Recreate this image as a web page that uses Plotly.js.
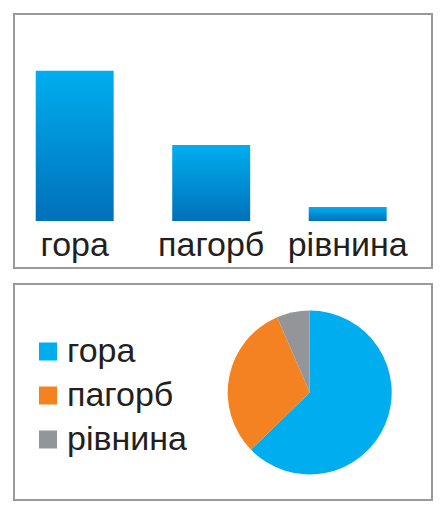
<!DOCTYPE html>
<html>
<head>
<meta charset="utf-8">
<script src="https://cdn.plot.ly/plotly-3.0.1.min.js"></script>
<style>
html,body{margin:0;padding:0;background:#fff;}
#chart{width:444px;height:513px;}
</style>
</head>
<body>
<div id="chart"></div>
<script>
// Data
const categories = ['гора', 'пагорб', 'рівнина'];
const barValues = [62.5, 31.6, 5.8];
const pieValues = [62.7, 30.8, 6.5];
const pieColors = ['#00ADEF', '#F58220', '#939598'];

const W = 444, H = 513;
const px = x => x / W;
const py = y => (H - y) / H;

const FONT = 'Liberation Sans, Arial, sans-serif';
const TEXT = '#231F20';

const barTrace = {
  type: 'bar',
  x: categories,
  y: barValues,
  width: 0.571,
  marker: {color: '#0a8fd6', line: {width: 0}},
  xaxis: 'x', yaxis: 'y',
  showlegend: false,
  hoverinfo: 'none'
};

const pieTrace = {
  type: 'pie',
  labels: categories,
  values: pieValues,
  sort: false,
  direction: 'clockwise',
  rotation: 0,
  marker: {colors: pieColors, line: {width: 0}},
  textinfo: 'none',
  hoverinfo: 'none',
  domain: {x: [px(227.7), px(391.7)], y: [py(474.5), py(310.5)]},
  showlegend: false
};

// Legend built from categories and pieColors
const legendShapes = [];
const legendAnnots = [];
const LEG_TOP = 342.5, LEG_STEP = 44, SQ = 18;
categories.forEach((c, i) => {
  const y0 = LEG_TOP + LEG_STEP * i;
  legendShapes.push({type: 'rect', xref: 'paper', yref: 'paper',
    x0: px(39), x1: px(39 + SQ), y0: py(y0 + SQ), y1: py(y0),
    fillcolor: pieColors[i], line: {width: 0}});
  legendAnnots.push({xref: 'paper', yref: 'paper', x: px(65), y: py(y0 + 7),
    xanchor: 'left', yanchor: 'middle', showarrow: false, text: c,
    font: {size: 34, family: FONT, color: TEXT}});
});

const layout = {
  width: W, height: H,
  margin: {l: 0, r: 0, t: 0, b: 0},
  paper_bgcolor: '#fff',
  plot_bgcolor: 'rgba(0,0,0,0)',
  font: {family: FONT, color: TEXT},
  xaxis: {
    domain: [px(6.45), px(415.95)],
    range: [-0.5, 2.5],
    type: 'category',
    showgrid: false, zeroline: false, showline: false,
    ticks: '', ticklen: 0,
    tickfont: {size: 34, family: FONT, color: TEXT},
    fixedrange: true
  },
  yaxis: {
    domain: [py(221), py(40)],
    range: [0, 62.5 * 181 / 150.3],
    visible: false,
    fixedrange: true
  },
  showlegend: false,
  annotations: legendAnnots,
  shapes: [
    {type: 'rect', xref: 'paper', yref: 'paper', x0: px(14), x1: px(432), y0: py(268), y1: py(14),
     line: {color: '#9a9a9a', width: 2}},
    {type: 'rect', xref: 'paper', yref: 'paper', x0: px(14), x1: px(432), y0: py(500), y1: py(284),
     line: {color: '#9a9a9a', width: 2}}
  ].concat(legendShapes)
};

Plotly.newPlot('chart', [barTrace, pieTrace], layout, {staticPlot: true, displayModeBar: false}).then(gd => {
  const svg = gd.querySelector('svg.main-svg');
  const ns = 'http://www.w3.org/2000/svg';
  let defs = svg.querySelector('defs');
  if (!defs) { defs = document.createElementNS(ns, 'defs'); svg.insertBefore(defs, svg.firstChild); }
  const grad = document.createElementNS(ns, 'linearGradient');
  grad.setAttribute('id', 'barGrad');
  grad.setAttribute('x1', '0'); grad.setAttribute('y1', '0');
  grad.setAttribute('x2', '0'); grad.setAttribute('y2', '1');
  [['0%', '#00AEEF'], ['100%', '#0070BA']].forEach(([o, c]) => {
    const s = document.createElementNS(ns, 'stop');
    s.setAttribute('offset', o); s.setAttribute('stop-color', c);
    grad.appendChild(s);
  });
  defs.appendChild(grad);
  gd.querySelectorAll('.barlayer .point path').forEach(p => {
    p.style.fill = 'url(#barGrad)';
  });
});
</script>
</body>
</html>
